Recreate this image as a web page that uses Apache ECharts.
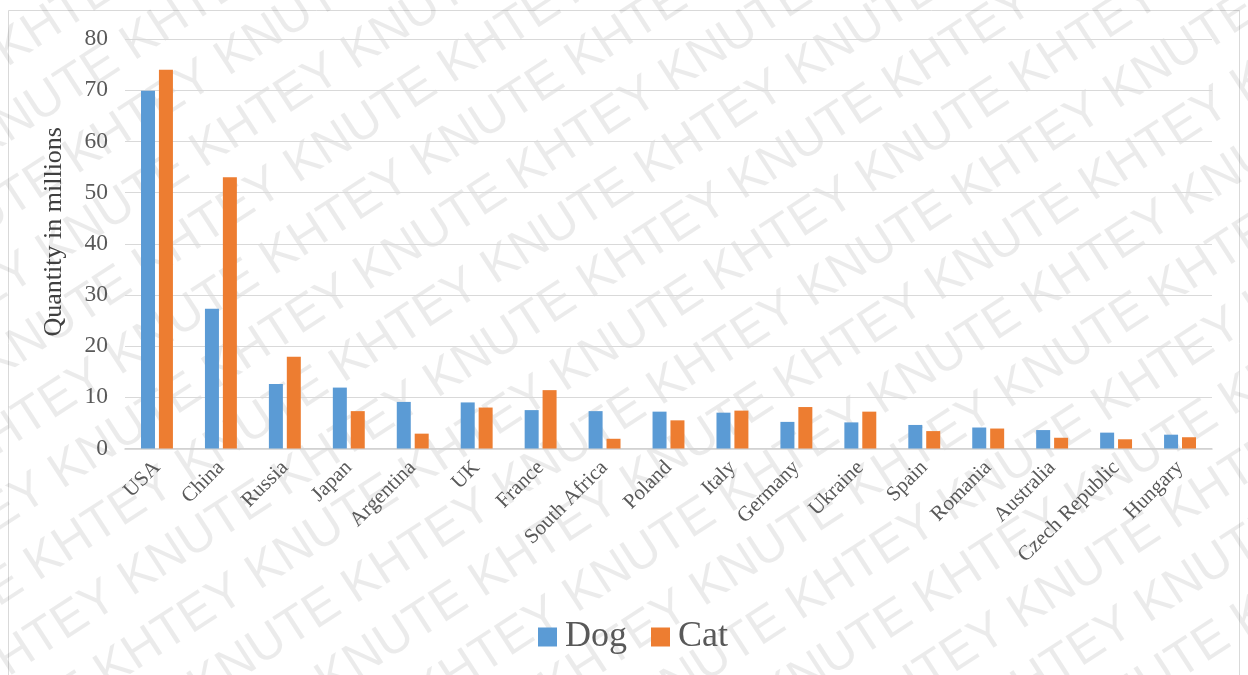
<!DOCTYPE html>
<html>
<head>
<meta charset="utf-8">
<script src="https://cdn.jsdelivr.net/npm/echarts@6/dist/echarts.min.js"></script>
<style>
html,body{margin:0;padding:0;background:#fff;}
#c{width:1248px;height:675px;}
</style>
</head>
<body>
<div id="c"></div>
<script>
var categories = ['USA','China','Russia','Japan','Argentina','UK','France','South Africa','Poland','Italy','Germany','Ukraine','Spain','Romania','Australia','Czech Republic','Hungary'];
var dogValues = [69.9, 27.3, 12.6, 11.9, 9.1, 9.0, 7.5, 7.3, 7.2, 7.0, 5.2, 5.1, 4.6, 4.1, 3.6, 3.1, 2.7];
var catValues = [74.0, 53.0, 17.9, 7.3, 2.9, 8.0, 11.4, 1.9, 5.5, 7.4, 8.1, 7.2, 3.4, 3.9, 2.1, 1.8, 2.2];
var seriesNames = ['Dog','Cat'];
var yTicks = {min: 0, max: 80, interval: 10};
var yAxisTitle = 'Quantity in millions';
var watermarkWord = 'KNUTE KHTEY ';

var chart = echarts.init(document.getElementById('c'), null, {renderer:'canvas'});

// watermark + frame
var graphics = [{
  type:'rect', silent:true, z:-10,
  shape:{x:8.5, y:10.5, width:1231, height:700},
  style:{fill:'none', stroke:'#d9d9d9', lineWidth:1}
}];
var ang = 33*Math.PI/180;
var sp = 64;
var longText = '';
for (var k=0;k<12;k++) longText += watermarkWord;
for (var i=-14;i<=14;i++){
  var cx = 624 + i*sp*Math.sin(ang);
  var cy = 337 + i*sp*Math.cos(ang);
  var L = 1900 + (i%2===0?0:110);
  graphics.push({
    type:'text', silent:true, z:-5,
    x: cx - L*Math.cos(ang), y: cy + L*Math.sin(ang),
    rotation: ang,
    style:{text: longText, font:'50px "Liberation Sans"', fill:'rgba(0,0,0,0.08)', textVerticalAlign:'middle'}
  });
}

var option = {
  backgroundColor:'#ffffff',
  animation:false,
  graphic: graphics,
  grid:{left:125, right:36, top:39, bottom:226.5, containLabel:false},
  legend:{
    data: seriesNames,
    left: 533, top: 614,
    itemWidth:19, itemHeight:19, itemGap:24,
    icon:'rect',
    textStyle:{fontFamily:'"Liberation Serif"', fontSize:36, color:'#595959', padding:[0,0,0,3]}
  },
  xAxis:{
    type:'category',
    data: categories,
    z:1,
    axisLine:{lineStyle:{color:'#d0d0d0', width:1.5}},
    axisTick:{show:false},
    axisLabel:{rotate:45, fontFamily:'"Liberation Serif"', fontSize:21, color:'#595959', margin:16, interval:0}
  },
  yAxis:{
    type:'value',
    min: yTicks.min, max: yTicks.max, interval: yTicks.interval,
    name: yAxisTitle,
    nameLocation:'middle',
    nameGap:58,
    nameRotate:90,
    nameTextStyle:{fontFamily:'"Liberation Serif"', fontSize:26, color:'#404040', padding:[0,0,0,24]},
    axisLine:{show:false},
    axisTick:{show:false},
    axisLabel:{fontFamily:'"Liberation Serif"', fontSize:23.5, color:'#595959', margin:17},
    splitLine:{lineStyle:{color:'#d9d9d9', width:1.2}}
  },
  series:[
    {name:seriesNames[0], type:'bar', data:dogValues, barWidth:14, barGap:'28%',
     itemStyle:{color:'#5B9BD5'}},
    {name:seriesNames[1], type:'bar', data:catValues, barWidth:14, barGap:'28%',
     itemStyle:{color:'#ED7D31'}}
  ]
};
chart.setOption(option);
</script>
</body>
</html>
